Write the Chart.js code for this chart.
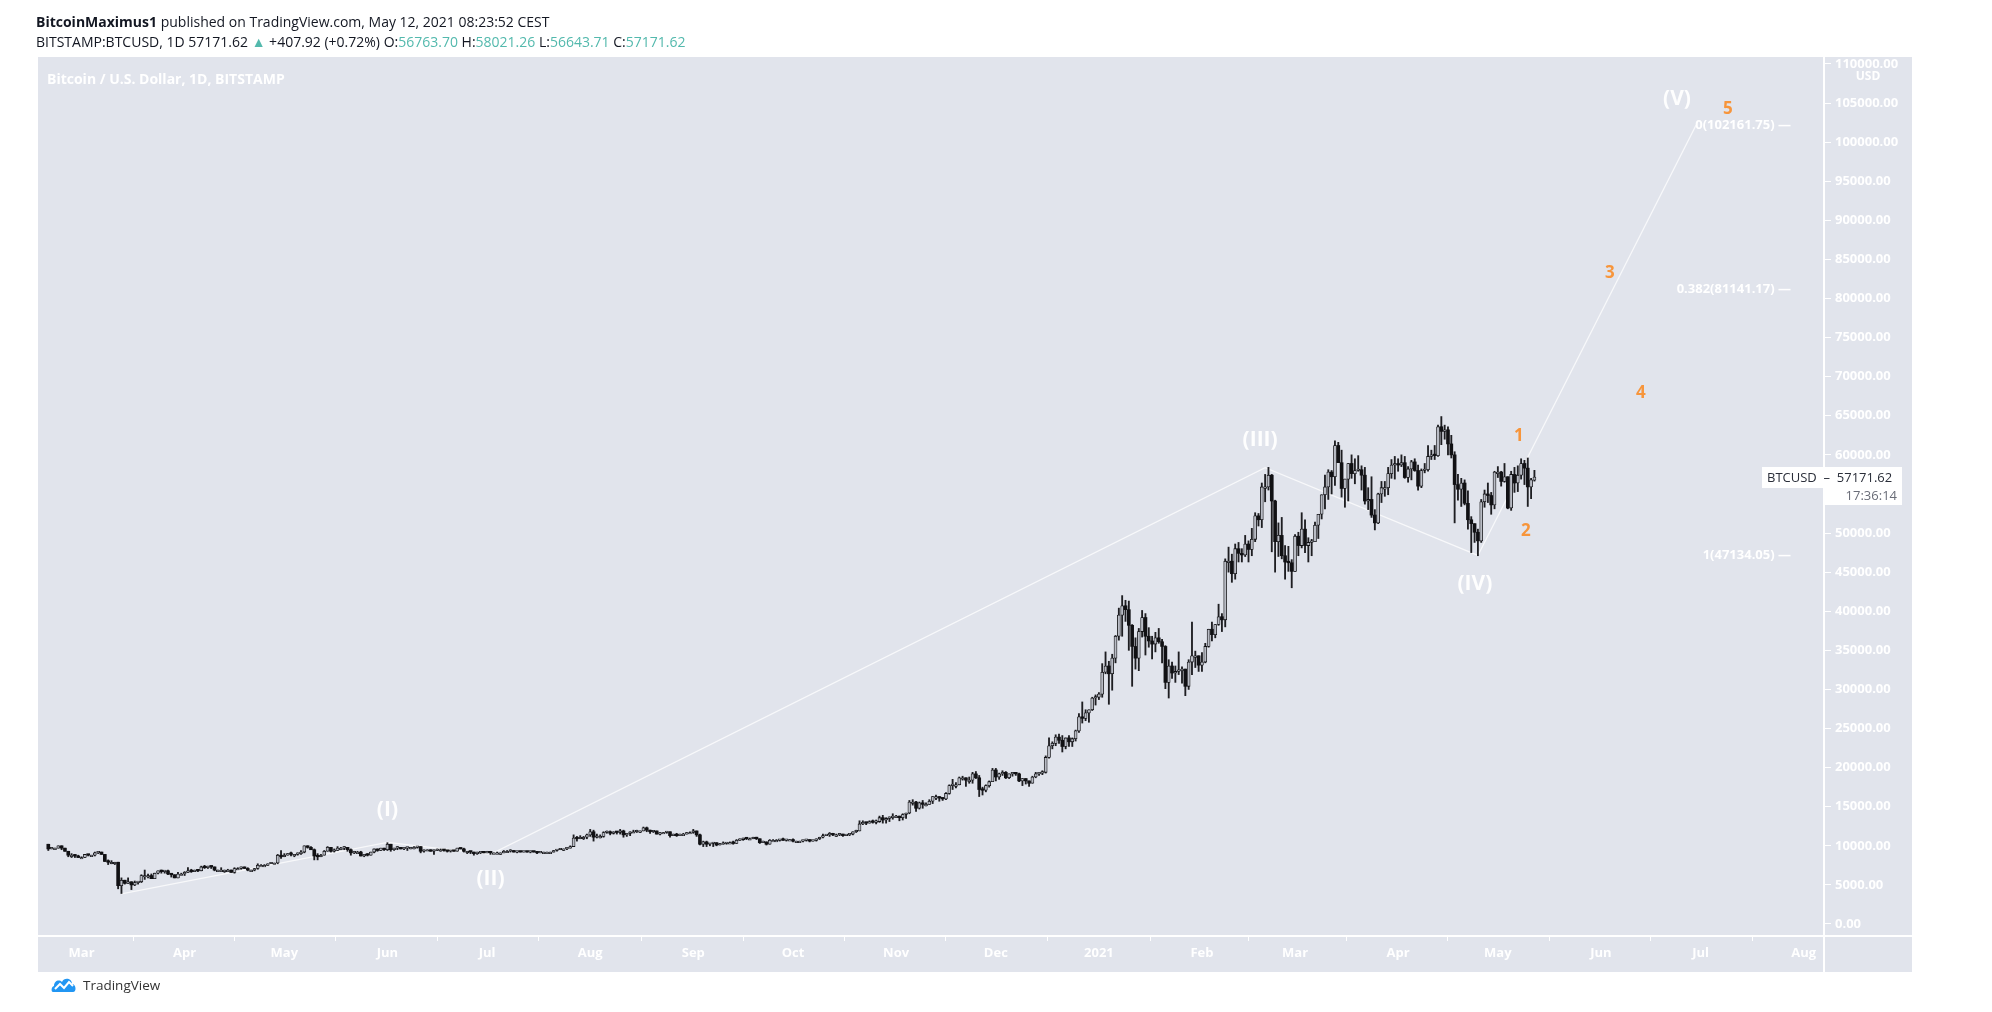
<!DOCTYPE html>
<html>
<head>
<meta charset="utf-8">
<script src="https://cdn.jsdelivr.net/npm/chart.js@4.4.0/dist/chart.umd.min.js"></script>
<style>
  body { margin: 0; background: #fff; width: 1992px; height: 1012px; overflow: hidden; position: relative; font-family: "Open Sans", sans-serif; }
  #chart { position: absolute; left: 0; top: 0; }
  .hdr { position: absolute; left: 36px; font-size: 14px; color: #131722; white-space: nowrap; line-height: 16px; }
  .v { color: #53b9ad; }
  #footer { position: absolute; left: 51px; top: 976px; display: flex; align-items: center; font-size: 13.5px; color: #333; }
  #footer svg { margin-right: 6px; }
</style>
</head>
<body>
<canvas id="chart" width="1992" height="1012"></canvas>
<div class="hdr" style="top:14px"><b>BitcoinMaximus1</b> published on TradingView.com, May 12, 2021 08:23:52 CEST</div>
<div class="hdr" style="top:34px">BITSTAMP:BTCUSD, 1D 57171.62 <span class="v">▲</span> +407.92 (+0.72%) O:<span class="v">56763.70</span> H:<span class="v">58021.26</span> L:<span class="v">56643.71</span> C:<span class="v">57171.62</span></div>
<div id="footer">
  <svg width="26" height="18" viewBox="0 0 26 18"><path d="M2 16 C0 16 0 11 3 10 C3 5 8 3 11 6 C13 1 21 2 21 8 C25 8 26 16 22 16 Z" fill="#2196f3"/><path d="M4 13 L9 8 L13 12 L18 6 L22 10" stroke="#fff" stroke-width="2" fill="none"/></svg>
  <span>TradingView</span>
</div>
<script>
// daily BTCUSD candles, thousands of USD; day 0 = 1 Mar 2020, first candle 20 Feb 2020
const firstDay = -10;
const firstOpen = 10.2;

const closes = [
  9.6,9.7,9.7,10.0,9.7,9.3,8.8,8.8,8.7,8.5,
  // Mar 2020
  8.5,8.9,8.8,8.8,9.1,9.2,8.9,8.0,7.9,7.9, 7.9,4.9,5.6,5.2,5.4,5.0,5.3,5.4,6.2,6.2, 6.2,5.8,6.5,6.8,6.7,6.8,6.4,6.3,5.9,6.4,6.4,
  // Apr
  6.6,6.8,6.7,6.9,6.8,7.3,7.2,7.4,7.3,6.9, 6.9,6.9,6.9,6.9,6.6,7.1,7.1,7.3,7.1,6.9, 6.9,7.1,7.5,7.5,7.5,7.7,7.8,7.8,8.8,8.6,
  // May
  8.8,9.0,8.9,8.9,9.0,9.2,10.0,9.8,9.5,8.7, 8.6,8.8,9.3,9.8,9.3,9.4,9.7,9.7,9.8,9.5, 9.1,9.2,9.2,8.7,8.9,8.8,9.2,9.6,9.4,9.7,9.5,
  // Jun
  10.2,9.5,9.7,9.8,9.6,9.7,9.8,9.8,9.8,9.9, 9.3,9.5,9.5,9.3,9.4,9.5,9.5,9.4,9.3,9.4, 9.3,9.7,9.6,9.3,9.3,9.2,9.0,9.1,9.2,9.1,
  // Jul
  9.2,9.1,9.1,9.1,9.1,9.3,9.3,9.4,9.2,9.3, 9.2,9.3,9.2,9.3,9.2,9.1,9.2,9.2,9.2,9.2, 9.4,9.5,9.6,9.6,9.7,9.9,11.0,10.9,11.1,11.1,11.4,
  // Aug
  11.8,11.1,11.2,11.2,11.7,11.8,11.6,11.8,11.7,11.9, 11.4,11.6,11.8,11.8,11.9,11.9,12.3,12.0,11.8,11.9, 11.5,11.7,11.7,11.8,11.3,11.5,11.3,11.5,11.5,11.7,11.7,
  // Sep
  11.9,11.4,10.2,10.5,10.2,10.3,10.4,10.1,10.2,10.3, 10.4,10.4,10.3,10.7,10.8,11.0,10.9,10.9,11.1,10.9, 10.4,10.5,10.2,10.7,10.7,10.7,10.8,10.7,10.8,10.8,
  // Oct
  10.6,10.6,10.6,10.7,10.8,10.6,10.7,10.9,11.1,11.3, 11.4,11.6,11.4,11.4,11.5,11.3,11.4,11.5,11.8,11.9, 12.8,13.0,12.9,13.1,13.0,13.1,13.6,13.3,13.5,13.6,13.8,
  // Nov
  13.8,13.6,14.0,14.2,15.6,15.6,14.8,15.5,15.3,15.3, 15.7,16.3,16.3,16.1,16.0,16.7,17.7,17.8,17.8,18.7, 18.7,18.4,18.4,19.2,18.7,17.2,17.1,17.7,18.2,19.7,
  // Dec
  18.8,19.2,19.4,18.7,19.2,19.4,19.2,18.3,18.6,18.3, 18.0,18.8,19.2,19.3,19.4,21.3,22.8,23.1,23.9,23.5, 22.7,23.8,23.3,23.7,24.7,26.5,26.3,27.0,27.4,28.9,29.0,
  // Jan 2021
  29.4,32.2,33.0,32.0,34.0,36.8,39.5,40.7,40.2,38.2, 35.5,34.0,37.4,39.2,36.8,36.2,35.8,36.6,36.1,35.5, 30.9,33.0,32.1,32.3,32.4,32.6,30.4,33.5,34.3,34.3,33.1,
  // Feb
  33.5,35.5,37.7,37.0,38.3,39.3,38.9,46.4,46.4,44.8, 48.0,47.4,47.2,48.6,47.9,49.2,52.2,51.7,55.9,55.9, 57.4,54.1,48.9,49.7,47.1,46.3,46.2,45.1,
  // Mar
  49.6,48.4,50.5,48.4,48.8,48.9,51.0,52.4,54.9,55.9, 57.8,57.2,61.2,59.0,55.7,56.9,58.9,57.6,58.0,58.1, 57.4,54.1,54.3,52.3,51.3,55.0,55.8,55.8,57.6,58.7,58.8,
  // Apr
  58.7,59.0,57.1,58.2,59.1,58.0,56.0,58.0,58.1,59.8, 60.0,59.9,63.6,63.0,63.2,61.4,60.0,56.2,55.6,56.4, 53.8,51.7,51.2,50.1,49.0,54.0,55.0,54.8,53.6,57.8,
  // May
  57.8,56.6,57.2,53.2,57.5,56.4,57.4,58.9,58.3,55.9,56.8,57.17
];

const highs = [
  10.2,9.8,9.7,10.0,10.0,9.7,9.3,9.0,8.9,8.8,
  8.6,8.9,8.9,8.8,9.2,9.2,9.2,8.9,8.2,8.1, 7.9,7.9,5.9,5.6,5.9,5.4,5.5,5.4,6.3,6.9, 6.4,6.4,6.5,6.8,6.9,6.8,6.9,6.4,6.3,6.6,6.5,
  6.7,7.2,7.0,6.9,6.9,7.4,7.5,7.4,7.4,7.3, 6.9,7.2,6.9,7.0,6.9,7.2,7.2,7.3,7.3,7.2, 6.9,7.1,7.7,7.6,7.6,7.7,7.8,7.8,8.9,9.4,
  9.0,9.0,9.2,8.9,9.1,9.4,10.0,10.0,9.9,9.6, 9.0,8.9,9.4,9.9,9.8,9.6,9.9,9.8,9.9,9.8, 9.6,9.3,9.3,9.3,8.9,9.0,9.2,9.6,9.6,9.7,9.7,
  10.4,10.2,9.7,9.9,9.8,9.7,9.8,9.8,9.9,9.9, 9.9,9.5,9.5,9.5,9.5,9.6,9.6,9.5,9.4,9.4, 9.4,9.7,9.7,9.7,9.3,9.3,9.2,9.2,9.2,9.2,
  9.3,9.3,9.1,9.2,9.1,9.4,9.4,9.5,9.4,9.3, 9.3,9.3,9.3,9.3,9.3,9.2,9.2,9.2,9.2,9.2, 9.4,9.5,9.6,9.6,9.7,10.0,11.4,11.2,11.3,11.2,11.5,
  12.1,12.0,11.5,11.4,11.8,11.9,11.9,11.8,11.8,12.1, 12.0,11.6,11.8,12.0,12.0,11.9,12.4,12.4,12.0,11.9, 11.9,11.7,11.7,11.8,11.8,11.5,11.6,11.5,11.6,11.7,11.8,
  12.1,11.9,11.5,10.6,10.6,10.3,10.4,10.4,10.3,10.5, 10.4,10.5,10.6,10.8,10.9,11.0,11.0,11.0,11.1,11.1, 10.9,10.6,10.5,10.8,10.8,10.8,10.8,11.0,10.8,10.8,
  10.9,10.6,10.6,10.7,10.8,10.8,10.7,10.9,11.1,11.5, 11.4,11.7,11.6,11.5,11.6,11.5,11.4,11.5,11.8,12.0, 13.2,13.2,13.0,13.2,13.3,13.3,13.8,13.9,13.6,13.7,14.1,
  13.9,13.8,14.1,14.2,15.8,15.9,15.7,15.6,15.8,15.5, 15.9,16.3,16.5,16.3,16.1,16.8,17.8,18.5,18.1,18.8, 18.9,18.7,18.8,19.4,19.5,19.0,17.5,17.8,18.3,19.9,
  19.9,19.3,19.6,19.5,19.2,19.4,19.4,19.3,18.6,18.6, 18.3,18.9,19.4,19.3,19.6,21.5,23.8,23.3,24.2,24.3, 24.1,23.8,24.1,23.8,24.8,26.9,28.4,27.4,27.4,29.0,29.3,
  29.6,33.3,34.8,33.6,34.5,36.9,40.4,42.0,41.4,41.3, 38.3,36.6,37.8,40.1,39.7,37.9,36.8,37.3,37.8,36.4, 35.6,33.8,33.5,33.0,34.8,32.9,32.6,33.8,38.6,34.9,34.3,
  34.7,35.9,37.7,38.6,38.3,40.9,39.7,46.7,48.2,47.3, 48.6,48.8,48.0,49.7,49.0,50.6,52.6,52.5,56.4,57.5, 58.4,57.5,54.2,51.3,52.0,48.4,48.3,46.6,
  49.8,50.1,52.6,51.7,49.4,49.2,51.4,52.4,54.9,57.4, 58.1,58.0,61.8,61.6,60.6,56.9,58.9,60.0,59.5,59.9, 58.6,58.4,55.8,57.2,53.0,55.1,56.6,56.6,58.4,59.4,59.8,
  59.5,60.0,59.8,58.5,59.3,59.5,58.7,58.2,58.9,61.2, 60.6,61.2,63.8,64.9,63.8,63.6,62.5,60.4,57.5,57.0, 56.8,55.4,52.1,51.2,50.5,54.3,55.5,56.4,55.2,57.9,
  58.5,57.9,58.9,57.2,57.9,58.4,58.6,59.5,59.3,59.6,57.0,58.02
];

const lows = [
  9.4,9.6,9.6,9.7,9.5,9.3,8.6,8.5,8.5,8.5,
  8.4,8.5,8.7,8.7,8.7,9.0,8.9,8.0,7.6,7.7, 7.6,4.5,3.9,5.1,5.2,4.4,4.9,5.1,5.3,5.7, 5.9,5.8,5.8,6.4,6.5,6.5,6.3,6.0,5.9,5.9,6.3,
  6.2,6.6,6.6,6.7,6.7,6.8,7.1,7.1,7.1,6.8, 6.8,6.8,6.6,6.8,6.6,6.5,7.0,7.0,7.1,6.8, 6.8,6.8,7.0,7.4,7.4,7.5,7.7,7.7,7.7,8.4,
  8.6,8.8,8.7,8.6,8.8,8.9,9.1,9.7,9.5,8.2, 8.2,8.6,8.8,9.3,9.2,9.2,9.4,9.5,9.5,9.3, 8.8,9.0,9.1,8.7,8.6,8.7,8.8,9.1,9.3,9.4,9.4,
  9.4,9.3,9.4,9.5,9.6,9.5,9.4,9.6,9.6,9.7, 9.1,9.2,9.4,9.3,8.9,9.4,9.3,9.3,9.2,9.2, 9.3,9.3,9.6,9.2,9.0,9.0,8.8,8.9,9.0,9.1,
  9.1,8.9,9.0,9.0,8.9,9.1,9.2,9.2,9.2,9.1, 9.2,9.2,9.2,9.1,9.2,9.0,9.1,9.1,9.1,9.1, 9.2,9.3,9.5,9.4,9.5,9.7,9.9,10.6,10.9,10.8,10.9,
  11.2,10.6,11.0,11.0,11.1,11.6,11.4,11.5,11.5,11.5, 11.1,11.2,11.3,11.7,11.7,11.7,11.9,11.8,11.6,11.7, 11.5,11.4,11.6,11.6,11.1,11.3,11.2,11.3,11.5,11.5,11.6,
  11.6,11.2,10.1,9.9,9.9,10.0,9.9,10.0,10.1,10.2, 10.2,10.3,10.2,10.3,10.7,10.7,10.8,10.8,10.9,10.8, 10.3,10.4,10.1,10.2,10.6,10.6,10.6,10.7,10.6,10.7,
  10.5,10.4,10.5,10.5,10.6,10.5,10.6,10.6,10.8,11.0, 11.3,11.2,11.3,11.2,11.3,11.2,11.3,11.3,11.4,11.7, 11.9,12.7,12.7,12.9,12.9,12.8,13.0,12.9,12.9,13.1,13.4,
  13.6,13.2,13.3,13.5,14.1,15.2,14.4,14.7,14.8,15.1, 15.3,15.4,15.9,15.7,15.8,15.9,16.6,17.2,17.4,17.8, 18.4,17.6,18.0,18.0,18.6,16.3,16.5,16.9,17.5,18.2,
  18.3,18.5,19.0,18.6,18.6,18.9,19.0,18.2,17.7,17.9, 17.6,18.0,18.7,19.0,19.1,19.3,21.2,22.4,22.8,23.1, 22.0,22.4,22.7,22.7,23.4,24.5,25.7,26.0,25.8,27.3,28.0,
  28.7,29.0,32.0,28.1,29.9,33.4,36.3,36.8,38.7,35.0, 30.4,32.6,32.4,36.7,34.4,35.4,33.9,34.8,35.9,33.4, 30.1,28.9,31.4,30.9,31.9,30.8,29.2,30.0,31.9,32.8,32.3,
  32.3,33.4,35.4,36.2,36.6,38.2,37.4,38.0,45.0,43.7, 44.1,46.3,46.3,47.0,46.3,47.1,48.9,50.9,50.7,54.0, 55.5,47.6,45.0,47.0,46.7,44.1,45.1,43.0,
  45.1,47.1,48.1,47.5,46.3,47.1,48.9,49.3,51.8,53.1, 54.3,55.0,56.1,59.0,54.6,53.3,54.1,57.0,56.3,57.9, 55.5,53.7,53.0,52.0,50.4,51.2,53.9,54.7,54.9,57.0,56.9,
  57.9,58.5,57.0,56.5,56.8,57.9,55.5,55.8,57.7,57.9, 59.4,59.4,59.8,61.3,62.0,60.0,59.6,51.3,54.2,53.4, 53.6,50.5,47.5,48.8,47.1,48.8,53.3,53.9,52.4,53.1,
  57.1,56.0,56.5,53.1,52.9,55.2,55.3,56.9,56.2,53.4,54.4,56.64
];

// month ticks on the time axis
const tickLabels = ['Mar','Apr','May','Jun','Jul','Aug','Sep','Oct','Nov','Dec','2021','Feb','Mar','Apr','May','Jun','Jul','Aug'];
const tickDays = [0,31,61,92,122,153,184,214,245,275,306,337,365,396,426,457,487,518];

// price scale ticks
const yTickValues = [0,5000,10000,15000,20000,25000,30000,35000,40000,45000,50000,55000,
  60000,65000,70000,75000,80000,85000,90000,95000,100000,105000,110000];

// Elliott wave path: start, (I), (II), (III), (IV), (V)
const waveDays = [12, 92, 123, 356, 420, 485.6];
const waveValues = [3850, 10430, 8900, 58350, 47134.05, 102161.75];
const waveNames = ['(I)','(II)','(III)','(IV)','(V)'];

// projected sub-waves (orange)
const subNames = ['1','2','3','4','5'];
const subDays = [432.3, 434.4, 459.7, 469, 495.2];
const subValues = [62400, 50300, 83300, 67900, 104200];

// fib levels
const fibNames = ['0(102161.75)', '0.382(81141.17)', '1(47134.05)'];
const fibValues = [102161.75, 81141.17, 47134.05];

const lastPrice = 57171.62;

const PANEL = '#e1e4ec';
const candles = closes.map((c, i) => ({
  x: firstDay + i,
  o: (i === 0 ? firstOpen : closes[i - 1]) * 1000,
  h: highs[i] * 1000,
  l: lows[i] * 1000,
  c: c * 1000
}));
candles[candles.length - 1].o = 56763.70;

const labelFont = { family: 'Open Sans', weight: 'bold', size: 13 };

const overlay = {
  id: 'overlay',
  beforeDraw(chart) {
    const ctx = chart.ctx;
    ctx.save();
    ctx.fillStyle = PANEL;
    ctx.fillRect(38, 57, 1874, 915);
    ctx.restore();
  },
  afterDraw(chart) {
    const ctx = chart.ctx;
    const xs = chart.scales.x, ys = chart.scales.y;
    ctx.save();
    // axis lines
    ctx.strokeStyle = '#ffffff';
    ctx.lineWidth = 2;
    ctx.beginPath();
    ctx.moveTo(1824, 57); ctx.lineTo(1824, 972);
    ctx.moveTo(38, 936); ctx.lineTo(1912, 936);
    ctx.stroke();

    // USD caption over the top tick
    ctx.fillStyle = PANEL;
    ctx.fillRect(1838, 69, 56, 15);
    ctx.fillStyle = '#ffffff';
    ctx.font = 'bold 12px "Open Sans"';
    ctx.textAlign = 'center';
    ctx.textBaseline = 'middle';
    ctx.fillText('USD', 1868, 77);

    // panel title
    ctx.textAlign = 'left';
    ctx.font = 'bold 14px "Open Sans"';
    ctx.fillText('Bitcoin / U.S. Dollar, 1D, BITSTAMP', 47, 80);

    // fib labels
    ctx.textAlign = 'right';
    ctx.font = 'bold 13px "Open Sans"';
    fibNames.forEach((t, i) => {
      ctx.fillText(t + ' —', 1791, ys.getPixelForValue(fibValues[i]));
    });

    // wave labels
    const offs = [[0, -32], [0, 25], [-5, -28], [-3, 29], [-19, -26]];
    ctx.textAlign = 'center';
    ctx.font = 'bold 21px "Open Sans"';
    ctx.fillStyle = 'rgba(255,255,255,0.95)';
    waveNames.forEach((t, i) => {
      const px = xs.getPixelForValue(waveDays[i + 1]) + offs[i][0];
      const py = ys.getPixelForValue(waveValues[i + 1]) + offs[i][1];
      ctx.fillText(t, px, py);
    });

    ctx.font = 'bold 17px "Open Sans"';
    ctx.fillStyle = '#f7953b';
    subNames.forEach((t, i) => {
      ctx.fillText(t, xs.getPixelForValue(subDays[i]), ys.getPixelForValue(subValues[i]));
    });

    // last price label
    const py = ys.getPixelForValue(lastPrice);
    ctx.fillStyle = '#ffffff';
    ctx.fillRect(1762, py - 10, 140, 21);
    ctx.fillRect(1823, py + 11, 79, 17);
    ctx.fillStyle = '#2a2e39';
    ctx.font = '13px "Open Sans"';
    ctx.textAlign = 'left';
    ctx.fillText('BTCUSD  –  ' + lastPrice.toFixed(2), 1767, py + 1);
    ctx.textAlign = 'right';
    ctx.fillStyle = '#6a6d78';
    ctx.fillText('17:36:14', 1897, py + 19);
    ctx.restore();
  }
};

new Chart(document.getElementById('chart'), {
  type: 'bar',
  data: {
    datasets: [
      {
        type: 'line',
        data: waveDays.map((d, i) => ({ x: d, y: waveValues[i] })),
        borderColor: 'rgba(255,255,255,0.75)',
        borderWidth: 1.3,
        pointRadius: 0,
        tension: 0,
        order: 3
      },
      {
        data: candles.map(k => ({ x: k.x, y: [k.l, k.h] })),
        backgroundColor: '#1e1e22',
        barThickness: 1.2,
        grouped: false,
        order: 2
      },
      {
        data: candles.map(k => ({ x: k.x, y: [k.o, k.c] })),
        backgroundColor: candles.map(k => k.c >= k.o ? '#b9bcc5' : '#111114'),
        borderColor: '#111114',
        borderWidth: candles.map(k => k.c >= k.o ? 0.8 : 0),
        borderSkipped: false,
        barThickness: 3,
        minBarLength: 1.5,
        grouped: false,
        order: 1
      }
    ]
  },
  options: {
    responsive: false,
    animation: false,
    layout: { padding: { left: 38, top: 57, right: 80, bottom: 40 } },
    plugins: { legend: { display: false }, tooltip: { enabled: false } },
    scales: {
      x: {
        type: 'linear',
        min: -13.1,
        max: 524.1,
        offset: false,
        border: { display: false },
        grid: { display: true, drawOnChartArea: false, drawTicks: true, tickLength: 5, tickColor: '#ffffff' },
        ticks: {
          color: '#ffffff', font: labelFont, maxRotation: 0, autoSkip: false, padding: 4,
          callback: (v, i) => tickLabels[i]
        },
        afterBuildTicks: s => { s.ticks = tickDays.map(v => ({ value: v })); },
        afterFit: s => { s.height = 36; }
      },
      y: {
        type: 'linear',
        position: 'right',
        min: -1535,
        max: 110884,
        border: { display: false },
        grid: { display: true, drawOnChartArea: false, drawTicks: true, tickLength: 7, tickColor: '#ffffff' },
        ticks: {
          color: '#ffffff', font: labelFont, padding: 4, crossAlign: 'near',
          callback: v => v.toFixed(2)
        },
        afterBuildTicks: s => { s.ticks = yTickValues.map(v => ({ value: v })); },
        afterFit: s => { s.width = 88; }
      }
    }
  },
  plugins: [overlay]
});
</script>
</body>
</html>
